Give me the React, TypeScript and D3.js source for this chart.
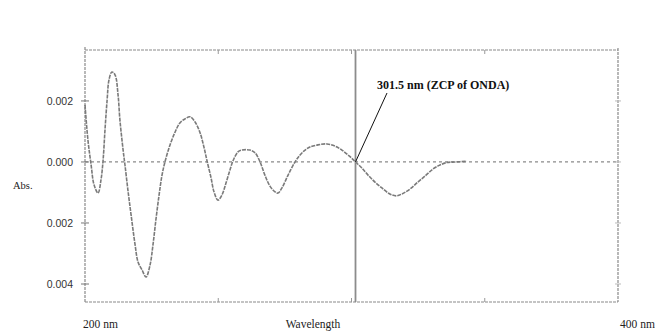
import React from "react";
import * as d3 from "d3";

const wavelength = [200.0, 201.1, 202.3, 203.4, 204.9, 206.0, 206.8, 207.5, 208.3, 209.0, 210.1, 211.3, 212.4, 213.1, 214.3, 215.0, 216.1, 217.3, 218.8, 219.9, 221.4, 222.9, 224.4, 225.5, 226.6, 227.8, 228.9, 230.0, 231.9, 233.8, 235.6, 237.5, 239.4, 241.3, 243.2, 244.7, 245.8, 247.3, 248.4, 249.9, 251.4, 252.9, 254.4, 255.5, 257.4, 258.9, 261.9, 263.8, 265.7, 267.5, 269.4, 271.3, 272.4, 273.9, 276.2, 278.8, 280.7, 282.6, 284.4, 287.4, 290.8, 293.8, 296.4, 299.1, 301.5, 303.9, 306.2, 308.8, 311.4, 314.4, 316.7, 318.9, 321.9, 324.9, 327.6, 330.6, 333.2, 335.8, 338.8, 343.3];
const absorbance = [0.00187, 0.00072, -0.0001, -0.00075, -0.00102, -0.00059, 0.00007, 0.00105, 0.00203, 0.00269, 0.00295, 0.00285, 0.0022, 0.00138, 0.00039, -0.0001, -0.00092, -0.00174, -0.00272, -0.00328, -0.00354, -0.00377, -0.00338, -0.00272, -0.0019, -0.00108, -0.00043, 0.0, 0.00056, 0.00098, 0.00128, 0.00141, 0.00148, 0.00131, 0.00095, 0.00046, 0.00003, -0.00052, -0.00098, -0.00125, -0.00108, -0.00069, -0.00026, 0.00003, 0.00033, 0.00039, 0.00039, 0.0003, 0.0, -0.00043, -0.00079, -0.00098, -0.00102, -0.00085, -0.00043, 0.0, 0.00023, 0.00039, 0.00049, 0.00056, 0.00059, 0.00052, 0.00039, 0.0002, 0.0, -0.0002, -0.00043, -0.00066, -0.00085, -0.00105, -0.00111, -0.00105, -0.00089, -0.00066, -0.00046, -0.00023, -0.0001, -0.00002, 0.0, 0.00002];

const yTickValues = [0.002, 0.0, -0.002, -0.004];
const yTickLabels = ["0.002", "0.000", "0.002", "0.004"];
const xTickValues = [250, 300, 350];
const zcpWavelength = 301.5;
const annotation = "301.5 nm (ZCP of ONDA)";

const W = 655;
const H = 332;
const L = 85, R = 618, T = 50, B = 302;

export default function App() {
  const x = d3.scaleLinear().domain([200, 400]).range([L, R]);
  const y = d3.scaleLinear().domain([-0.00459, 0.00367]).range([B, T]);
  const pts: [number, number][] = wavelength.map((w, i) => [w, absorbance[i]]);
  const line = d3
    .line<[number, number]>()
    .x((d) => x(d[0]))
    .y((d) => y(d[1]))
    .curve(d3.curveCatmullRom.alpha(0.5));
  const frame = "#8a8a8a";
  const zx = x(zcpWavelength);
  const zy = y(0);
  return (
    <svg
      width={W}
      height={H}
      style={{ position: "absolute", left: 0, top: 0, background: "#fff" }}
    >
      {/* frame */}
      <g stroke={frame} strokeWidth={1.2} fill="none" strokeDasharray="3,1">
        <line x1={L} y1={T} x2={R} y2={T} />
        <line x1={L} y1={B} x2={R} y2={B} />
        <line x1={L} y1={T - 3} x2={L} y2={B} />
        <line x1={R} y1={T - 2} x2={R} y2={B} />
      </g>
      {/* zero line */}
      <line
        x1={L}
        x2={R}
        y1={y(0)}
        y2={y(0)}
        stroke="#8a8a8a"
        strokeWidth={1.3}
        strokeDasharray="3,3"
      />
      {/* y ticks left and right */}
      {yTickValues.map((v, i) => (
        <g key={i}>
          <line x1={L - 4} x2={L + 4} y1={y(v)} y2={y(v)} stroke="#777" strokeWidth={1} />
          <line x1={R - 3} x2={R + 3} y1={y(v)} y2={y(v)} stroke="#bbb" strokeWidth={1} />
          <text
            x={73}
            y={y(v) + 4}
            textAnchor="end"
            fontFamily="Liberation Sans, Arial, sans-serif"
            fontSize={10.5}
            fill="#333"
          >
            {yTickLabels[i]}
          </text>
        </g>
      ))}
      {/* x ticks */}
      {xTickValues.map((v) => (
        <g key={v} stroke="#999" strokeWidth={1}>
          <line x1={x(v)} x2={x(v)} y1={T} y2={T + 4} />
          <line x1={x(v)} x2={x(v)} y1={B} y2={B - 4} />
        </g>
      ))}
      {/* curve */}
      <path
        d={line(pts) || ""}
        fill="none"
        stroke="#7a7a7a"
        strokeWidth={1.6}
        strokeDasharray="4,1"
      />
      {/* vertical ZCP line */}
      <line x1={zx} x2={zx} y1={T} y2={B} stroke="#8c8c8c" strokeWidth={1.8} />
      {/* leader line */}
      <line x1={zx} y1={zy} x2={387} y2={93} stroke="#111" strokeWidth={1} />
      <text
        x={377}
        y={89}
        fontFamily="Liberation Serif, Times New Roman, serif"
        fontWeight="bold"
        fontSize={12}
        fill="#111"
      >
        {annotation}
      </text>
      {/* axis labels */}
      <text x={13} y={189} fontFamily="Liberation Serif, serif" fontSize={10.5} fill="#222">
        Abs.
      </text>
      <text x={83} y={328} fontFamily="Liberation Serif, serif" fontSize={11.5} fill="#222">
        200 nm
      </text>
      <text x={313} y={328} textAnchor="middle" fontFamily="Liberation Serif, serif" fontSize={11.5} fill="#222">
        Wavelength
      </text>
      <text x={620} y={328} fontFamily="Liberation Serif, serif" fontSize={11.5} fill="#222">
        400 nm
      </text>
    </svg>
  );
}
